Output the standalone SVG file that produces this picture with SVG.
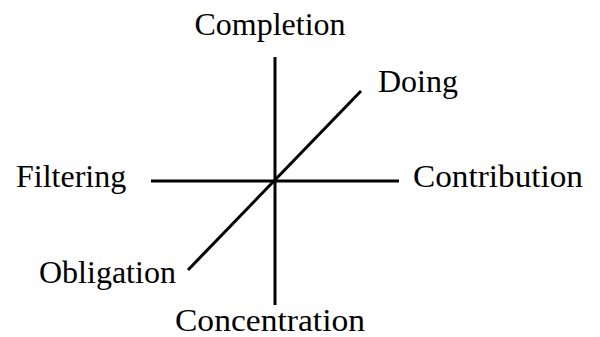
<svg xmlns="http://www.w3.org/2000/svg" width="600" height="337" viewBox="0 0 600 337">
<style>
.lbl{font-family:"Liberation Serif","Times New Roman",serif;font-size:32px;fill:#000}
.ln{stroke:#000;stroke-width:3;fill:none}
</style>
<rect width="600" height="337" fill="#fff"/>
<g id="connectors">
<line class="ln" x1="275" y1="57" x2="275" y2="305"/>
<line class="ln" x1="151" y1="181" x2="399" y2="181"/>
<line class="ln" x1="188" y1="270" x2="361" y2="91"/>
</g>
<g id="completion"><text class="lbl" x="270" y="35" text-anchor="middle">Completion</text></g>
<g id="doing"><text class="lbl" x="378" y="92">Doing</text></g>
<g id="filtering"><text class="lbl" x="16" y="187">Filtering</text></g>
<g id="contribution"><text class="lbl" x="413" y="187" textLength="170" lengthAdjust="spacingAndGlyphs">Contribution</text></g>
<g id="obligation"><text class="lbl" x="39" y="283">Obligation</text></g>
<g id="concentration"><text class="lbl" x="175" y="331" textLength="190" lengthAdjust="spacingAndGlyphs">Concentration</text></g>
</svg>
